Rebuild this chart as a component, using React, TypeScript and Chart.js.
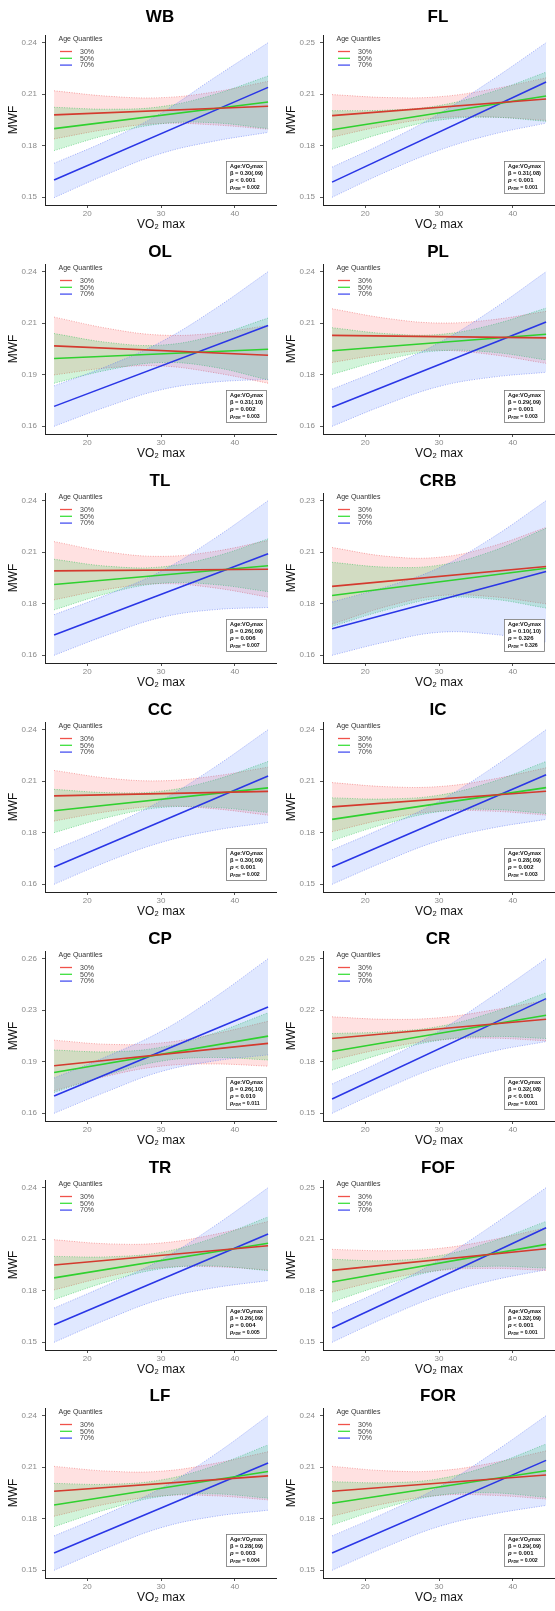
import React, { useEffect, useRef } from "react";
import { Chart, registerables } from "chart.js";

Chart.register(...registerables);

const FONT = '"Liberation Sans", Arial, Helvetica, sans-serif';

// shared axes data
const VO2_BAND = [15.5, 23, 30, 37, 44.5];
const VO2_LINE = [15.5, 44.5];
const X_TICKS = [20, 30, 40];
const QUANTILES = ["30%", "50%", "70%"];

const LINE_COLORS = ["#d43a2e", "#2fd12f", "#2a36e6"];
const LEGEND_COLORS = ["#f0524a", "#3ee03e", "#4750f0"];
const BAND_FILLS = ["rgba(255,70,70,0.16)", "rgba(30,200,70,0.20)", "rgba(70,120,255,0.17)"];
const BAND_EDGES = ["rgba(235,90,90,0.75)", "rgba(40,190,80,0.75)", "rgba(90,110,240,0.75)"];

// ---------- WB ----------
const WB_Y = [0.15, 0.24];
const WB_TICKS = ["0.15", "0.18", "0.21", "0.24"];
const WB_FIT = [[0.198, 0.203], [0.19, 0.2055], [0.16, 0.214]];
const WB_LO = [[0.184, 0.1898, 0.193, 0.1922, 0.1896], [0.1772, 0.1867, 0.1928, 0.1934, 0.19], [0.1498, 0.164, 0.1755, 0.1825, 0.1878]];
const WB_HI = [[0.212, 0.2088, 0.208, 0.2112, 0.2175], [0.2024, 0.2013, 0.2028, 0.2096, 0.2206], [0.1698, 0.1836, 0.199, 0.219, 0.24]];
const WB_STATS = ["0.30(.09)", "< 0.001", "= 0.002"];

// ---------- FL ----------
const FL_Y = [0.15, 0.245];
const FL_TICKS = ["0.15", "0.18", "0.21", "0.25"];
const FL_FIT = [[0.2002, 0.2104], [0.1915, 0.2123], [0.1593, 0.2209]];
const FL_LO = [[0.187, 0.1943, 0.1988, 0.1993, 0.1973], [0.1796, 0.1902, 0.1974, 0.1992, 0.1967], [0.15, 0.166, 0.1789, 0.1884, 0.1956]];
const FL_HI = [[0.2131, 0.2113, 0.2118, 0.2163, 0.2234], [0.2032, 0.2036, 0.2064, 0.2146, 0.2269], [0.1685, 0.1844, 0.2013, 0.2216, 0.245]];
const FL_STATS = ["0.31(.08)", "< 0.001", "= 0.001"];

// ---------- OL ----------
const OL_Y = [0.16, 0.24];
const OL_TICKS = ["0.16", "0.19", "0.21", "0.24"];
const OL_FIT = [[0.2016, 0.1968], [0.1951, 0.1999], [0.1703, 0.2122]];
const OL_LO = [[0.1866, 0.1903, 0.1912, 0.1879, 0.1823], [0.1823, 0.1893, 0.193, 0.1907, 0.184], [0.16, 0.1706, 0.1789, 0.1828, 0.1843]];
const OL_HI = [[0.2165, 0.2105, 0.2072, 0.2081, 0.2122], [0.208, 0.2033, 0.202, 0.2067, 0.216], [0.1809, 0.1916, 0.2037, 0.22, 0.24]];
const OL_STATS = ["0.31(.10)", "= 0.002", "= 0.003"];

// ---------- PL ----------
const PL_Y = [0.155, 0.24];
const PL_TICKS = ["0.16", "0.18", "0.21", "0.24"];
const PL_FIT = [[0.205, 0.2036], [0.1965, 0.2056], [0.1654, 0.2123]];
const PL_LO = [[0.1901, 0.1949, 0.1968, 0.1945, 0.1896], [0.1836, 0.1919, 0.1965, 0.1958, 0.1915], [0.155, 0.1673, 0.1769, 0.1819, 0.1847]];
const PL_HI = [[0.2196, 0.2143, 0.2118, 0.2135, 0.2182], [0.2092, 0.2059, 0.2055, 0.2106, 0.22], [0.1754, 0.1877, 0.2009, 0.2185, 0.24]];
const PL_STATS = ["0.29(.09)", "= 0.001", "= 0.003"];

// ---------- TL ----------
const TL_Y = [0.155, 0.24];
const TL_TICKS = ["0.16", "0.18", "0.21", "0.24"];
const TL_FIT = [[0.2014, 0.2023], [0.1939, 0.2042], [0.1662, 0.2108]];
const TL_LO = [[0.1855, 0.1915, 0.1944, 0.1922, 0.187], [0.18, 0.1893, 0.1946, 0.194, 0.19], [0.155, 0.1666, 0.1758, 0.18, 0.1813]];
const TL_HI = [[0.2175, 0.2117, 0.2094, 0.212, 0.2181], [0.2078, 0.2039, 0.2036, 0.209, 0.219], [0.1773, 0.1888, 0.2012, 0.2186, 0.24]];
const TL_STATS = ["0.26(.09)", "= 0.006", "= 0.007"];

// ---------- CRB ----------
const CRB_Y = [0.16, 0.23];
const CRB_TICKS = ["0.16", "0.18", "0.21", "0.23"];
const CRB_FIT = [[0.1912, 0.2002], [0.1871, 0.1994], [0.172, 0.1979]];
const CRB_LO = [[0.1741, 0.1822, 0.187, 0.1866, 0.1833], [0.1731, 0.1807, 0.1858, 0.1855, 0.1814], [0.16, 0.1662, 0.1704, 0.1696, 0.1659]];
const CRB_HI = [[0.2088, 0.2048, 0.2044, 0.2092, 0.2179], [0.2021, 0.1999, 0.2008, 0.2069, 0.2175], [0.1841, 0.1912, 0.1996, 0.2128, 0.23]];
const CRB_STATS = ["0.10(.10)", "= 0.326", "= 0.326"];

// ---------- CC ----------
const CC_Y = [0.155, 0.24];
const CC_TICKS = ["0.16", "0.18", "0.21", "0.24"];
const CC_FIT = [[0.2036, 0.2061], [0.1954, 0.208], [0.1645, 0.2145]];
const CC_LO = [[0.1898, 0.1951, 0.1979, 0.1966, 0.193], [0.1834, 0.192, 0.1972, 0.1973, 0.1945], [0.155, 0.1679, 0.178, 0.1845, 0.189]];
const CC_HI = [[0.2176, 0.2133, 0.2119, 0.2144, 0.2194], [0.2072, 0.2054, 0.2062, 0.2121, 0.2225], [0.1739, 0.1869, 0.201, 0.2187, 0.24]];
const CC_STATS = ["0.30(.09)", "< 0.001", "= 0.002"];

// ---------- IC ----------
const IC_Y = [0.15, 0.24];
const IC_TICKS = ["0.15", "0.18", "0.21", "0.24"];
const IC_FIT = [[0.1951, 0.2042], [0.1878, 0.2063], [0.16, 0.2138]];
const IC_LO = [[0.1806, 0.1882, 0.1925, 0.1926, 0.1903], [0.1754, 0.1855, 0.1923, 0.1936, 0.1912], [0.15, 0.1639, 0.1754, 0.1826, 0.1878]];
const IC_HI = [[0.2092, 0.2068, 0.2069, 0.211, 0.2178], [0.2003, 0.1997, 0.2019, 0.2094, 0.2215], [0.17, 0.1839, 0.1984, 0.2172, 0.24]];
const IC_STATS = ["0.28(.09)", "= 0.002", "= 0.003"];

// ---------- CP ----------
const CP_Y = [0.16, 0.26];
const CP_TICKS = ["0.16", "0.19", "0.23", "0.26"];
const CP_FIT = [[0.1907, 0.2052], [0.1864, 0.2099], [0.1712, 0.2288]];
const CP_LO = [[0.1746, 0.1844, 0.1905, 0.1919, 0.1905], [0.1735, 0.1852, 0.1937, 0.1961, 0.1945], [0.16, 0.1747, 0.187, 0.1937, 0.1978]];
const CP_HI = [[0.2073, 0.2046, 0.2055, 0.2111, 0.2195], [0.2009, 0.1998, 0.2027, 0.2115, 0.225], [0.1828, 0.1975, 0.213, 0.2341, 0.26]];
const CP_STATS = ["0.26(.10)", "= 0.010", "= 0.011"];

// ---------- CR ----------
const CR_Y = [0.15, 0.25];
const CR_TICKS = ["0.15", "0.18", "0.22", "0.25"];
const CR_FIT = [[0.1984, 0.2108], [0.19, 0.2134], [0.1592, 0.2242]];
const CR_LO = [[0.1844, 0.1924, 0.1974, 0.1986, 0.1969], [0.178, 0.1894, 0.1972, 0.1997, 0.1984], [0.15, 0.1665, 0.1802, 0.1898, 0.1964]];
const CR_HI = [[0.2124, 0.2108, 0.2118, 0.2166, 0.2231], [0.2016, 0.2028, 0.2062, 0.2149, 0.228], [0.1689, 0.1855, 0.2032, 0.225, 0.25]];
const CR_STATS = ["0.32(.08)", "< 0.001", "= 0.001"];

// ---------- TR ----------
const TR_Y = [0.15, 0.24];
const TR_TICKS = ["0.15", "0.18", "0.21", "0.24"];
const TR_FIT = [[0.195, 0.2062], [0.1875, 0.2077], [0.1602, 0.213]];
const TR_LO = [[0.1805, 0.1885, 0.1934, 0.194, 0.1921], [0.1749, 0.1856, 0.1928, 0.1944, 0.1917], [0.15, 0.1639, 0.1751, 0.1816, 0.1859]];
const TR_HI = [[0.2097, 0.2073, 0.2078, 0.2126, 0.2203], [0.2, 0.1998, 0.2024, 0.2106, 0.223], [0.1699, 0.1839, 0.1981, 0.217, 0.24]];
const TR_STATS = ["0.26(.09)", "= 0.004", "= 0.005"];

// ---------- FOF ----------
const FOF_Y = [0.15, 0.245];
const FOF_TICKS = ["0.15", "0.18", "0.21", "0.25"];
const FOF_FIT = [[0.1942, 0.2075], [0.1871, 0.2102], [0.1588, 0.2204]];
const FOF_LO = [[0.1809, 0.1889, 0.1941, 0.1954, 0.1942], [0.1748, 0.186, 0.1942, 0.1967, 0.1956], [0.15, 0.1657, 0.1786, 0.1878, 0.1946]];
const FOF_HI = [[0.2071, 0.2063, 0.2077, 0.2128, 0.2204], [0.201, 0.2002, 0.2032, 0.2117, 0.2243], [0.168, 0.1837, 0.2006, 0.2212, 0.245]];
const FOF_STATS = ["0.32(.09)", "< 0.001", "= 0.001"];

// ---------- LF ----------
const LF_Y = [0.15, 0.24];
const LF_TICKS = ["0.15", "0.18", "0.21", "0.24"];
const LF_FIT = [[0.196, 0.205], [0.188, 0.2075], [0.16, 0.2125]];
const LF_LO = [[0.1815, 0.1889, 0.1933, 0.1934, 0.191], [0.1754, 0.1859, 0.193, 0.1945, 0.192], [0.15, 0.1636, 0.1748, 0.1812, 0.185]];
const LF_HI = [[0.2105, 0.2077, 0.2077, 0.212, 0.219], [0.2006, 0.2001, 0.2026, 0.2105, 0.223], [0.17, 0.1836, 0.1978, 0.2166, 0.24]];
const LF_STATS = ["0.28(.09)", "= 0.003", "= 0.004"];

// ---------- FOR ----------
const FOR_Y = [0.15, 0.24];
const FOR_TICKS = ["0.15", "0.18", "0.21", "0.24"];
const FOR_FIT = [[0.196, 0.2055], [0.189, 0.208], [0.16, 0.214]];
const FOR_LO = [[0.1815, 0.1891, 0.1936, 0.1937, 0.1915], [0.1764, 0.1868, 0.1937, 0.1951, 0.1925], [0.15, 0.164, 0.1755, 0.1825, 0.1878]];
const FOR_HI = [[0.2105, 0.2079, 0.208, 0.2123, 0.2195], [0.2016, 0.201, 0.2033, 0.2111, 0.2235], [0.17, 0.184, 0.1985, 0.2175, 0.24]];
const FOR_STATS = ["0.29(.09)", "= 0.001", "= 0.002"];

type PanelDef = {
  name: string;
  y: number[];
  ticks: string[];
  fit: number[][];
  lo: number[][];
  hi: number[][];
  stats: string[];
};

const PANELS: PanelDef[] = [
  { name: "WB", y: WB_Y, ticks: WB_TICKS, fit: WB_FIT, lo: WB_LO, hi: WB_HI, stats: WB_STATS },
  { name: "FL", y: FL_Y, ticks: FL_TICKS, fit: FL_FIT, lo: FL_LO, hi: FL_HI, stats: FL_STATS },
  { name: "OL", y: OL_Y, ticks: OL_TICKS, fit: OL_FIT, lo: OL_LO, hi: OL_HI, stats: OL_STATS },
  { name: "PL", y: PL_Y, ticks: PL_TICKS, fit: PL_FIT, lo: PL_LO, hi: PL_HI, stats: PL_STATS },
  { name: "TL", y: TL_Y, ticks: TL_TICKS, fit: TL_FIT, lo: TL_LO, hi: TL_HI, stats: TL_STATS },
  { name: "CRB", y: CRB_Y, ticks: CRB_TICKS, fit: CRB_FIT, lo: CRB_LO, hi: CRB_HI, stats: CRB_STATS },
  { name: "CC", y: CC_Y, ticks: CC_TICKS, fit: CC_FIT, lo: CC_LO, hi: CC_HI, stats: CC_STATS },
  { name: "IC", y: IC_Y, ticks: IC_TICKS, fit: IC_FIT, lo: IC_LO, hi: IC_HI, stats: IC_STATS },
  { name: "CP", y: CP_Y, ticks: CP_TICKS, fit: CP_FIT, lo: CP_LO, hi: CP_HI, stats: CP_STATS },
  { name: "CR", y: CR_Y, ticks: CR_TICKS, fit: CR_FIT, lo: CR_LO, hi: CR_HI, stats: CR_STATS },
  { name: "TR", y: TR_Y, ticks: TR_TICKS, fit: TR_FIT, lo: TR_LO, hi: TR_HI, stats: TR_STATS },
  { name: "FOF", y: FOF_Y, ticks: FOF_TICKS, fit: FOF_FIT, lo: FOF_LO, hi: FOF_HI, stats: FOF_STATS },
  { name: "LF", y: LF_Y, ticks: LF_TICKS, fit: LF_FIT, lo: LF_LO, hi: LF_HI, stats: LF_STATS },
  { name: "FOR", y: FOR_Y, ticks: FOR_TICKS, fit: FOR_FIT, lo: FOR_LO, hi: FOR_HI, stats: FOR_STATS },
];

// layout
const CANVAS_W = 277;
const CANVAS_H = 232;
const PLOT_TOP = 35;
const AXIS_Y = [205, 434, 663, 892, 1121, 1350, 1578];
const COL_X = [0, 278];

type Run = { t: string; italic?: boolean; sub?: boolean };

function drawRuns(ctx: CanvasRenderingContext2D, runs: Run[], x: number, y: number, size: number, maxW: number) {
  const fontFor = (r: Run) => `${r.italic ? "italic " : ""}bold ${r.sub ? size * 0.7 : size}px ${FONT}`;
  let total = 0;
  for (const r of runs) {
    ctx.font = fontFor(r);
    total += ctx.measureText(r.t).width;
  }
  const sx = total > maxW ? maxW / total : 1;
  ctx.save();
  ctx.translate(x, y);
  ctx.scale(sx, 1);
  let cx = 0;
  for (const r of runs) {
    ctx.font = fontFor(r);
    ctx.fillText(r.t, cx, r.sub ? size * 0.3 : 0);
    cx += ctx.measureText(r.t).width;
  }
  ctx.restore();
}

function makeDecor(p: PanelDef, titleY: number) {
  return {
    id: "decor_" + p.name,
    afterDraw(chart: any) {
      const ctx: CanvasRenderingContext2D = chart.ctx;
      const { left, right, top, bottom } = chart.chartArea;
      ctx.save();
      // title
      ctx.fillStyle = "#000";
      ctx.font = `bold 17px ${FONT}`;
      ctx.textAlign = "center";
      ctx.textBaseline = "middle";
      ctx.fillText(p.name, (left + right) / 2 - 1, titleY);

      // legend
      ctx.textAlign = "left";
      ctx.fillStyle = "#333";
      ctx.font = `7px ${FONT}`;
      ctx.fillText("Age Quantiles", left + 13.5, top + 3.8);
      QUANTILES.forEach((q, s) => {
        const ly = top + 16.5 + 6.8 * s;
        ctx.strokeStyle = LEGEND_COLORS[s];
        ctx.lineWidth = 1.3;
        ctx.setLineDash([]);
        ctx.beginPath();
        ctx.moveTo(left + 15, ly);
        ctx.lineTo(left + 27, ly);
        ctx.stroke();
        ctx.fillStyle = "#444";
        ctx.fillText(q, left + 35, ly + 0.3);
      });

      // stats box
      const bw = 40;
      const bh = 32;
      const bx = Math.round(right - 11 - bw);
      const by = Math.round(bottom - 12 - bh);
      ctx.fillStyle = "#fff";
      ctx.fillRect(bx, by, bw, bh);
      ctx.strokeStyle = "#777";
      ctx.lineWidth = 0.8;
      ctx.strokeRect(bx + 0.5, by + 0.5, bw, bh);
      ctx.fillStyle = "#111";
      ctx.textBaseline = "middle";
      const tx = bx + 4;
      const mw = bw - 7;
      drawRuns(ctx, [{ t: "Age:VO" }, { t: "2", sub: true }, { t: "max" }], tx, by + 5, 6, mw);
      drawRuns(ctx, [{ t: "\u03b2 = " + p.stats[0] }], tx, by + 12, 6, mw);
      drawRuns(ctx, [{ t: "p", italic: true }, { t: " " + p.stats[1] }], tx, by + 19.5, 6, mw * 0.85);
      drawRuns(ctx, [{ t: "p", italic: true }, { t: "FDR", italic: true, sub: true }, { t: " " + p.stats[2] }], tx, by + 26.5, 6, mw * 0.9);
      ctx.restore();
    },
  };
}

function Panel({ p, idx }: { p: PanelDef; idx: number }) {
  const ref = useRef<HTMLCanvasElement | null>(null);
  const row = Math.floor(idx / 2);
  const col = idx % 2;
  const canvasTop = AXIS_Y[row] - (PLOT_TOP + 170);
  const titleY = row === 0 ? 17 : PLOT_TOP - 12;

  useEffect(() => {
    if (!ref.current) return;
    const [yMin, yMax] = p.y;
    const R = yMax - yMin;
    const yTickVals = [0, 1, 2, 3].map((k) => yMin + (k * R) / 3);

    const datasets: any[] = [];
    p.fit.forEach((f, s) => {
      datasets.push({
        label: "fit" + s,
        data: VO2_LINE.map((x, i) => ({ x, y: f[i] })),
        borderColor: LINE_COLORS[s],
        borderWidth: 1.6,
        pointRadius: 0,
        fill: false,
        order: s,
      });
    });
    [2, 1, 0].forEach((s, k) => {
      datasets.push({
        label: "hi" + s,
        data: VO2_BAND.map((x, i) => ({ x, y: p.hi[s][i] })),
        borderColor: BAND_EDGES[s],
        borderWidth: 0.7,
        borderDash: [1, 1.5],
        pointRadius: 0,
        tension: 0.4,
        fill: "+1",
        backgroundColor: BAND_FILLS[s],
        order: 10 + k * 2,
      });
      datasets.push({
        label: "lo" + s,
        data: VO2_BAND.map((x, i) => ({ x, y: p.lo[s][i] })),
        borderColor: BAND_EDGES[s],
        borderWidth: 0.7,
        borderDash: [1, 1.5],
        pointRadius: 0,
        tension: 0.4,
        fill: false,
        order: 11 + k * 2,
      });
    });

    const chart = new Chart(ref.current, {
      type: "line",
      data: { datasets },
      plugins: [makeDecor(p, titleY)],
      options: {
        responsive: false,
        animation: false,
        devicePixelRatio: 1,
        layout: { padding: { top: PLOT_TOP, left: 0, right: 0, bottom: 0 } },
        plugins: { legend: { display: false }, tooltip: { enabled: false }, title: { display: false } },
        scales: {
          x: {
            type: "linear",
            min: 14.27,
            max: 45.71,
            afterBuildTicks: (s: any) => {
              s.ticks = X_TICKS.map((v) => ({ value: v }));
            },
            afterFit: (s: any) => {
              s.height = CANVAS_H - PLOT_TOP - 170;
            },
            grid: { drawOnChartArea: false, drawTicks: true, tickLength: 3, color: "#555" },
            border: { display: true, color: "#222", width: 1 },
            ticks: { font: { family: FONT, size: 8 }, color: "#8a8a8a", padding: 1, maxRotation: 0, autoSkip: false },
            title: { display: true, text: "VO\u2082 max", font: { family: FONT, size: 12 }, color: "#111", padding: { top: 0, bottom: 0 } },
          },
          y: {
            type: "linear",
            min: yMin - 0.05 * R,
            max: yMax + 0.05 * R,
            afterBuildTicks: (s: any) => {
              s.ticks = yTickVals.map((v) => ({ value: v }));
            },
            afterFit: (s: any) => {
              s.width = 45;
            },
            grid: { drawOnChartArea: false, drawTicks: true, tickLength: 3, color: "#555" },
            border: { display: true, color: "#222", width: 1 },
            ticks: {
              font: { family: FONT, size: 8 },
              color: "#8a8a8a",
              padding: 5,
              autoSkip: false,
              callback: (_v: any, i: number) => p.ticks[i],
            },
            title: { display: true, text: "MWF", font: { family: FONT, size: 12 }, color: "#111", padding: { top: 6, bottom: 0 } },
          },
        },
      } as any,
    });
    return () => chart.destroy();
  }, []);

  return (
    <canvas
      ref={ref}
      width={CANVAS_W}
      height={CANVAS_H}
      style={{ position: "absolute", left: COL_X[col], top: canvasTop, width: CANVAS_W, height: CANVAS_H }}
    />
  );
}

export default function App() {
  return (
    <div style={{ position: "absolute", left: 0, top: 0, width: 555, height: 1611, background: "#fff", overflow: "hidden" }}>
      {PANELS.map((p, i) => (
        <Panel key={p.name} p={p} idx={i} />
      ))}
    </div>
  );
}
